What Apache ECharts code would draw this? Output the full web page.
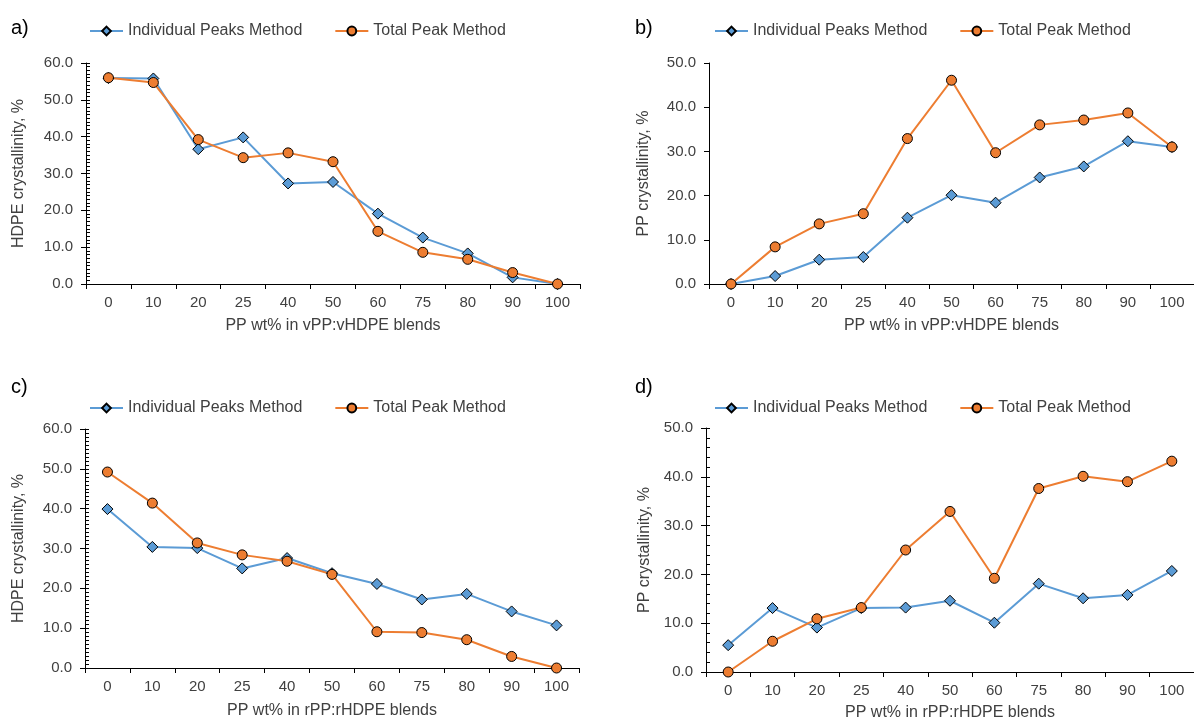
<!DOCTYPE html>
<html>
<head>
<meta charset="utf-8">
<script src="https://cdn.jsdelivr.net/npm/echarts@6/dist/echarts.min.js"></script>
<style>
  html, body { margin: 0; padding: 0; background: #fff; }
  #chart { width: 1194px; height: 722px; }
</style>
</head>
<body>
<div id="chart"></div>
<script>
// PP content of the blends (category axis)
const categories = ['0', '10', '20', '25', '40', '50', '60', '75', '80', '90', '100'];

// a) HDPE crystallinity, vPP:vHDPE blends
const aIndividual = [55.9, 55.8, 36.6, 39.8, 27.3, 27.7, 19.1, 12.6, 8.3, 1.8, 0.0];
const aTotal      = [56.0, 54.7, 39.2, 34.3, 35.6, 33.2, 14.3, 8.6, 6.7, 3.1, 0.0];

// b) PP crystallinity, vPP:vHDPE blends
const bIndividual = [0.0, 1.8, 5.5, 6.1, 15.0, 20.1, 18.4, 24.1, 26.6, 32.3, 31.0];
const bTotal      = [0.0, 8.4, 13.6, 15.9, 32.9, 46.1, 29.7, 36.0, 37.1, 38.7, 31.0];

// c) HDPE crystallinity, rPP:rHDPE blends
const cIndividual = [39.9, 30.4, 30.1, 25.0, 27.6, 23.8, 21.1, 17.2, 18.6, 14.2, 10.7];
const cTotal      = [49.2, 41.4, 31.4, 28.4, 26.8, 23.5, 9.1, 8.9, 7.1, 2.9, 0.0];

// d) PP crystallinity, rPP:rHDPE blends
const dIndividual = [5.5, 13.1, 9.1, 13.1, 13.2, 14.6, 10.1, 18.1, 15.1, 15.8, 20.7];
const dTotal      = [0.0, 6.3, 10.9, 13.2, 25.0, 32.9, 19.2, 37.6, 40.1, 39.0, 43.2];

const seriesNames = ['Individual Peaks Method', 'Total Peak Method'];
const panelLetters = ['a)', 'b)', 'c)', 'd)'];
const xTitles = ['PP wt% in vPP:vHDPE blends', 'PP wt% in vPP:vHDPE blends',
                 'PP wt% in rPP:rHDPE blends', 'PP wt% in rPP:rHDPE blends'];
const yTitles = ['HDPE crystallinity, %', 'PP crystallinity, %',
                 'HDPE crystallinity, %', 'PP crystallinity, %'];
const yMax = [60, 50, 60, 50];
const minorStep = [1, 0, 1, 2];   // 0 = no minor ticks

const BLUE = '#5B9BD5';
const ORANGE = '#ED7D31';
const TEXT = '#404040';
const FONT = 'Liberation Sans, Arial, sans-serif';

// panel layout
const panels = [
  { left: 86,  top: 63,  width: 494, height: 221, legendTop: 23,  letterX: 11,  letterY: 30,  yGap: 59, xGap: 34 },
  { left: 709, top: 63,  width: 498, height: 221, legendTop: 23,  letterX: 635, letterY: 30,  yGap: 57, xGap: 34 },
  { left: 85,  top: 429, width: 494, height: 239, legendTop: 400, letterX: 11,  letterY: 389, yGap: 58, xGap: 35 },
  { left: 706, top: 428, width: 498, height: 245, legendTop: 400, letterX: 635, letterY: 389, yGap: 53, xGap: 33 }
];
const legendLeft = [89, 714, 89, 714];
const dataSets = [[aIndividual, aTotal], [bIndividual, bTotal], [cIndividual, cTotal], [dIndividual, dTotal]];

const grid = [], xAxis = [], yAxis = [], series = [], legend = [], graphic = [];

panels.forEach((p, i) => {
  grid.push({ left: p.left, top: p.top, width: p.width, height: p.height, containLabel: false });

  xAxis.push({
    type: 'category', gridIndex: i, data: categories, boundaryGap: true,
    name: xTitles[i], nameLocation: 'middle', nameGap: p.xGap,
    nameTextStyle: { color: TEXT, fontSize: 16, fontFamily: FONT },
    axisLine: { lineStyle: { color: '#000', width: 1 } },
    axisTick: { show: true, length: 5, alignWithLabel: false, lineStyle: { color: '#000' } },
    axisLabel: { color: TEXT, fontSize: 15, fontFamily: FONT, margin: 11, interval: 0 },
    splitLine: { show: false }
  });

  // main value axis: labels, title and the inner half of the major ticks
  const hasMinor = minorStep[i] > 0;
  yAxis.push({
    type: 'value', gridIndex: i, min: 0, max: yMax[i], interval: 10, position: 'left',
    name: yTitles[i], nameLocation: 'middle', nameRotate: 90, nameGap: p.yGap,
    nameTextStyle: { color: TEXT, fontSize: 16, fontFamily: FONT },
    axisLine: { show: true, lineStyle: { color: '#000', width: 1 } },
    axisTick: hasMinor
      ? { show: true, inside: true, length: 4, lineStyle: { color: '#000' } }
      : { show: true, inside: false, length: 5, lineStyle: { color: '#000' } },
    axisLabel: { color: TEXT, fontSize: 15, fontFamily: FONT, margin: 13, formatter: v => v.toFixed(1) },
    splitLine: { show: false }
  });

  series.push({
    name: seriesNames[0], type: 'line', xAxisIndex: i, yAxisIndex: i, data: dataSets[i][0],
    symbol: 'diamond', symbolSize: 11, showAllSymbol: true,
    lineStyle: { color: BLUE, width: 2 },
    itemStyle: { color: BLUE, borderColor: '#000', borderWidth: 1 }
  });
  series.push({
    name: seriesNames[1], type: 'line', xAxisIndex: i, yAxisIndex: i, data: dataSets[i][1],
    symbol: 'circle', symbolSize: 10, showAllSymbol: true,
    lineStyle: { color: ORANGE, width: 2 },
    itemStyle: { color: ORANGE, borderColor: '#000', borderWidth: 1 }
  });

  legend.push({
    data: seriesNames, left: legendLeft[i], top: p.legendTop, padding: 0,
    itemWidth: 33, itemHeight: 11, itemGap: 32, selectedMode: false,
    textStyle: { color: TEXT, fontSize: 16, fontFamily: FONT }
  });

  graphic.push({
    type: 'text', left: p.letterX, top: p.letterY - 12,
    style: { text: panelLetters[i], fill: '#000', font: '20px ' + FONT }
  });
});

// companion axes: outer half of the crossing major ticks, and inner minor ticks
panels.forEach((p, i) => {
  if (!(minorStep[i] > 0)) return;
  const bare = {
    type: 'value', gridIndex: i, min: 0, max: yMax[i], position: 'left', offset: 0,
    axisLine: { show: false }, axisLabel: { show: false }, splitLine: { show: false }
  };
  yAxis.push(Object.assign({}, bare, {
    interval: 10,
    axisTick: { show: true, inside: false, length: 5, lineStyle: { color: '#000' } }
  }));
  yAxis.push(Object.assign({}, bare, {
    interval: minorStep[i],
    axisTick: { show: true, inside: true, length: 4, lineStyle: { color: '#000' } }
  }));
});

const chart = echarts.init(document.getElementById('chart'), null, { renderer: 'canvas' });
chart.setOption({
  animation: false,
  backgroundColor: '#fff',
  grid, xAxis, yAxis, series, legend, graphic
});
</script>
</body>
</html>
